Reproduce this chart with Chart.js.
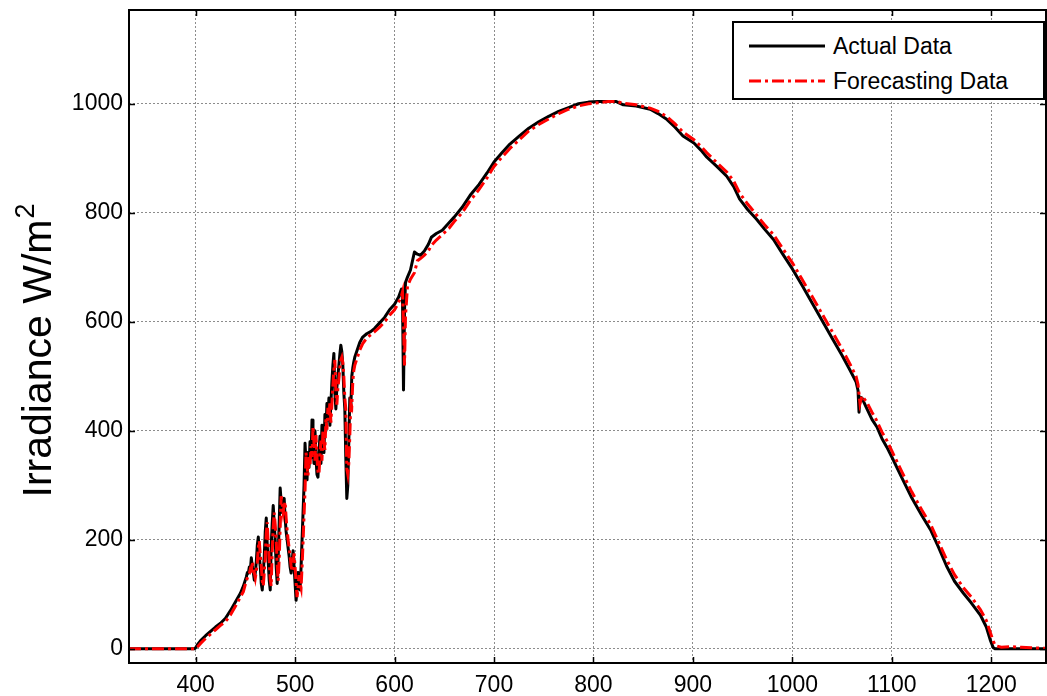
<!DOCTYPE html>
<html>
<head>
<meta charset="utf-8">
<script src="https://cdn.jsdelivr.net/npm/chart.js@4.4.0/dist/chart.umd.min.js"></script>
<style>
  html, body { margin: 0; padding: 0; background: #fff; }
  #wrap { position: relative; width: 1047px; height: 696px; }
  #legend {
    position: absolute; left: 732px; top: 21px; width: 309px; height: 75px;
    border: 2px solid #000; background: #fff;
    font-family: "Liberation Sans", Arial, sans-serif; font-size: 23px; color: #000;
  }
  #legend .row { position: absolute; left: 0; height: 30px; line-height: 30px; white-space: nowrap; }
  #legend svg { position: absolute; left: 14px; top: 0; }
  #legend span { position: absolute; left: 99px; top: 0; }
</style>
</head>
<body>
<div id="wrap">
  <canvas id="irr" width="1047" height="696"></canvas>
  <div id="legend"></div>
</div>
<script>
// minute of day
const minutes = [
  333, 340, 350, 360, 370, 380, 390, 399,
  400, 402, 405, 410, 415, 420, 425, 430, 435, 440, 445, 448,
  451, 452, 453, 454, 455, 456, 457, 458, 459, 460, 461, 462, 463, 464, 465, 466, 467, 468, 469, 470,
  471, 472, 473, 474, 475, 476, 477, 478, 479, 480, 481, 482, 483, 484, 485, 486, 487, 488, 489, 490,
  491, 492, 493, 494, 495, 496, 497, 498, 499, 500, 501, 502, 503, 504, 505,
  506, 507, 508, 509, 510, 511, 512, 513, 514, 515, 516, 517, 518, 519, 520, 521, 522, 523, 524, 525,
  526, 527, 528, 529, 530, 531, 532, 533, 534, 535, 536, 537, 538, 539, 540, 541, 542, 543, 544, 545,
  546, 547, 548, 549, 550, 551, 552, 553, 554, 555, 556, 557, 558, 559, 560,
  565, 568, 572, 576, 580, 585, 590, 595, 600, 604, 607, 608, 609, 610, 611, 613, 616, 620, 623, 626,
  630, 634, 637, 642, 648, 655, 660, 668, 676, 685, 693, 700, 708, 716, 725, 735, 745, 755, 765, 775,
  785, 795, 805, 815, 823, 830, 843, 857, 865, 874, 882, 890, 901, 908, 914, 924, 934, 941, 947, 955,
  964, 972, 981, 990, 1000, 1010, 1020, 1030, 1040, 1050, 1058, 1064, 1066, 1067, 1068, 1070, 1075, 1080, 1085, 1090,
  1095, 1100, 1110, 1120, 1130, 1139, 1147, 1155, 1163, 1172, 1180, 1189, 1195, 1199, 1202, 1204, 1210, 1220, 1230, 1240,
  1255
];
const actual = [
  0, 0, 0, 0, 0, 0, 0, 0,
  2, 8, 15, 24, 32, 40, 47, 56, 70, 86, 102, 115,
  132, 140, 139, 150, 145, 167, 150, 140, 126, 140, 160, 190, 205, 170, 150, 120, 108, 140, 170, 215,
  240, 190, 160, 125, 108, 190, 230, 263, 230, 200, 150, 120, 170, 230, 295, 270, 250, 265, 276, 240,
  215, 200, 185, 170, 150, 139, 160, 180, 150, 120, 89, 110, 140, 125, 108,
  150, 200, 250, 300, 377, 340, 310, 360, 333, 380, 350, 420, 380, 340, 400, 350, 320, 315, 360, 390,
  340, 410, 380, 360, 430, 400, 450, 420, 460, 410, 450, 490, 520, 542, 470, 440, 480, 500, 520, 540,
  557, 545, 520, 470, 440, 350, 276, 300, 380, 460, 440, 500, 515, 526, 535,
  562, 572, 578, 582, 588, 598, 608, 622, 632, 645, 660, 640, 475, 620, 672, 682, 695, 728, 724, 722,
  730, 742, 755, 762, 768, 782, 792, 810, 832, 852, 873, 893, 910, 926, 940, 955, 967, 977, 986, 993,
  1000, 1003, 1004, 1004, 1004, 998, 996, 990, 982, 971, 957, 941, 928, 915, 902, 885, 867, 848, 825, 806,
  788, 770, 751, 725, 697, 666, 634, 602, 570, 538, 511, 490, 474, 434, 462, 460, 440, 421, 407, 386,
  370, 352, 314, 277, 245, 218, 186, 152, 124, 102, 84, 62, 40, 16, 2, 0, 0, 0, 0, 0,
  0
];
const forecast = [
  0, 0, 0, 0, 0, 0, 0, 0,
  0, 4, 10, 19, 27, 35, 43, 50, 62, 78, 95, 105,
  125, 130, 136, 138, 146, 144, 160, 148, 140, 130, 142, 158, 185, 198, 172, 152, 125, 115, 140, 168,
  210, 232, 192, 162, 128, 115, 180, 222, 250, 228, 200, 155, 125, 165, 222, 280, 265, 250, 262, 270,
  240, 218, 200, 185, 170, 152, 142, 158, 175, 150, 122, 95, 112, 135, 120,
  112, 150, 195, 245, 290, 360, 335, 318, 352, 335, 372, 352, 408, 378, 345, 392, 350, 325, 320, 355,
  382, 345, 402, 378, 365, 422, 402, 442, 420, 452, 415, 448, 482, 512, 530, 472, 448, 478, 495, 515,
  530, 535, 525, 500, 460, 440, 330, 320, 340, 390, 450, 445, 490, 510, 520,
  548, 560, 570, 576, 582, 590, 600, 612, 622, 635, 648, 655, 600, 520, 610, 665, 678, 690, 712, 716,
  722, 730, 740, 750, 760, 772, 784, 800, 822, 843, 864, 885, 902, 918, 933, 950, 962, 972, 982, 990,
  996, 1000, 1002, 1004, 1004, 1001, 998, 992, 986, 976, 963, 948, 934, 922, 910, 892, 875, 858, 836, 816,
  796, 778, 760, 735, 708, 677, 646, 614, 582, 550, 522, 500, 485, 468, 450, 464, 452, 434, 418, 398,
  382, 363, 325, 288, 255, 228, 196, 164, 136, 112, 95, 72, 52, 30, 14, 6, 3, 4, 3, 2,
  1
];
const xTicks = [400, 500, 600, 700, 800, 900, 1000, 1100, 1200];
const yTicks = [0, 200, 400, 600, 800, 1000];
const seriesNames = ['Actual Data', 'Forecasting Data'];
const yTitle = 'Irradiance W/m';
const yTitleSup = '2';

const font = '"Liberation Sans", Arial, sans-serif';

// MATLAB style box with inward ticks
const frame = {
  id: 'frame',
  afterDatasetsDraw(chart) {
    const { ctx, chartArea: a, scales } = chart;
    ctx.save();
    ctx.strokeStyle = '#000';
    ctx.lineWidth = 1.5;
    ctx.beginPath();
    const tl = 6;
    xTicks.forEach(v => {
      const px = Math.round(scales.x.getPixelForValue(v)) + 0.5;
      ctx.moveTo(px, a.bottom); ctx.lineTo(px, a.bottom - tl);
      ctx.moveTo(px, a.top); ctx.lineTo(px, a.top + tl);
    });
    yTicks.forEach(v => {
      const py = Math.round(scales.y.getPixelForValue(v)) + 0.5;
      ctx.moveTo(a.left, py); ctx.lineTo(a.left + tl, py);
      ctx.moveTo(a.right, py); ctx.lineTo(a.right - tl, py);
    });
    ctx.stroke();
    ctx.lineWidth = 2;
    ctx.strokeRect(a.left, a.top, a.right - a.left, a.bottom - a.top);
    ctx.restore();
  }
};

// rotated y title with a raised exponent
const yLabel = {
  id: 'yLabel',
  afterDraw(chart) {
    const { ctx, chartArea: a } = chart;
    const big = 41, small = 27;
    ctx.save();
    ctx.fillStyle = '#000';
    ctx.font = big + 'px ' + font;
    const w1 = ctx.measureText(yTitle).width;
    ctx.font = small + 'px ' + font;
    const w2 = ctx.measureText(yTitleSup).width;
    const total = w1 + w2 + 1;
    const cy = (a.top + a.bottom) / 2 + 14;
    ctx.translate(51, cy);
    ctx.rotate(-Math.PI / 2);
    ctx.textBaseline = 'alphabetic';
    ctx.textAlign = 'left';
    ctx.font = big + 'px ' + font;
    ctx.fillText(yTitle, -total / 2, 0);
    ctx.font = small + 'px ' + font;
    ctx.fillText(yTitleSup, -total / 2 + w1 + 1, -17);
    ctx.restore();
  }
};

const chart = new Chart(document.getElementById('irr'), {
  type: 'line',
  data: {
    datasets: [{
      label: seriesNames[0],
      data: minutes.map((m, i) => ({ x: m, y: actual[i] })),
      borderColor: '#000000',
      borderWidth: 3,
      borderJoinStyle: 'round',
      borderCapStyle: 'round',
      pointRadius: 0,
      tension: 0,
      order: 2
    }, {
      label: seriesNames[1],
      data: minutes.map((m, i) => ({ x: m, y: forecast[i] })),
      borderColor: '#ff0000',
      borderWidth: 3,
      borderDash: [12, 4, 3, 4],
      pointRadius: 0,
      tension: 0,
      order: 1
    }]
  },
  options: {
    responsive: false,
    animation: false,
    layout: { padding: { top: 10, right: 1, left: 0, bottom: 0 } },
    plugins: { legend: { display: false }, tooltip: { enabled: false } },
    scales: {
      x: {
        type: 'linear',
        min: 333,
        max: 1255,
        afterBuildTicks: s => { s.ticks = xTicks.map(v => ({ value: v })); },
        afterFit: s => { s.height = 33; s.paddingLeft = 0; s.paddingRight = 0; },
        ticks: { font: { family: font, size: 23 }, color: '#000', padding: 9, maxRotation: 0, callback: v => String(v) },
        grid: { color: 'rgba(0,0,0,0.45)', lineWidth: 1, drawTicks: false },
        border: { display: false, dash: [2, 2] }
      },
      y: {
        min: -26,
        max: 1172,
        afterBuildTicks: s => { s.ticks = yTicks.map(v => ({ value: v })); },
        afterFit: s => { s.width = 129; s.paddingTop = 0; s.paddingBottom = 0; },
        ticks: { font: { family: font, size: 23 }, color: '#000', padding: 6, callback: v => String(v) },
        grid: { color: 'rgba(0,0,0,0.45)', lineWidth: 1, drawTicks: false },
        border: { display: false, dash: [2, 2] }
      }
    }
  },
  plugins: [frame, yLabel]
});

// legend box built from the datasets
const legend = document.getElementById('legend');
chart.data.datasets.forEach((ds, i) => {
  const row = document.createElement('div');
  row.className = 'row';
  row.style.top = (8 + i * 35) + 'px';
  const dash = ds.borderDash ? ds.borderDash.join(' ') : 'none';
  row.innerHTML =
    '<svg width="78" height="30"><line x1="1" y1="15" x2="77" y2="15" stroke="' + ds.borderColor +
    '" stroke-width="3" stroke-dasharray="' + dash + '"/></svg><span></span>';
  row.querySelector('span').textContent = ds.label;
  legend.appendChild(row);
});
</script>
</body>
</html>
